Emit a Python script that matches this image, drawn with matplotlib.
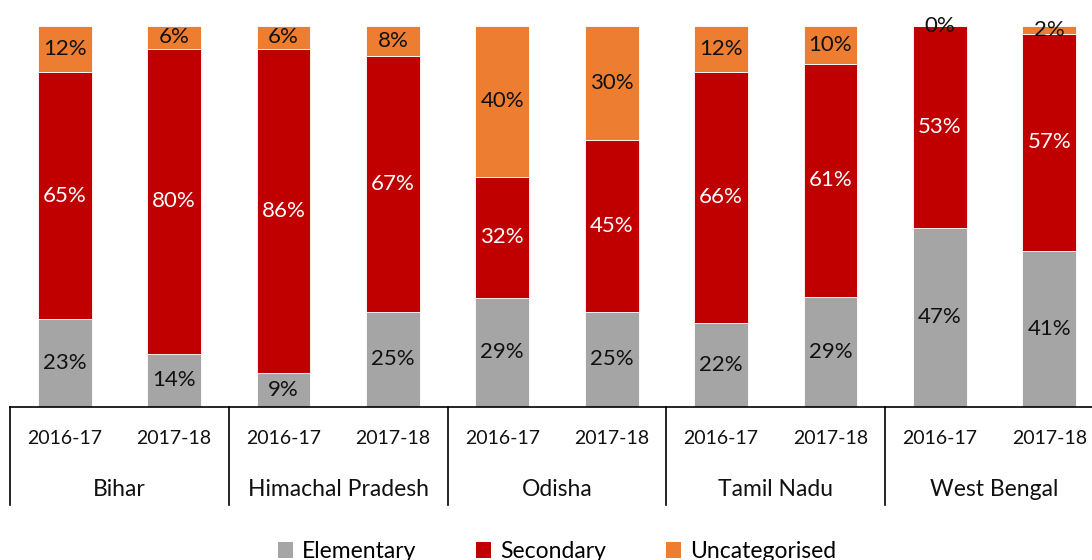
import matplotlib
matplotlib.use("Agg")
import matplotlib.pyplot as plt
from matplotlib.patches import Patch
import numpy as np

plt.rcParams['font.family'] = ['Lato', 'DejaVu Sans']

states = ["Bihar", "Himachal Pradesh", "Odisha", "Tamil Nadu", "West Bengal"]
years = ["2016-17", "2017-18"]
elementary = [23, 14, 9, 25, 29, 25, 22, 29, 47, 41]
secondary = [65, 80, 86, 67, 32, 45, 66, 61, 53, 57]
uncategorised = [12, 6, 6, 8, 40, 30, 12, 10, 0, 2]

colors = {"Elementary": "#A5A5A5", "Secondary": "#C00000", "Uncategorised": "#ED7D31"}
text_colors = {"Elementary": "#111111", "Secondary": "white", "Uncategorised": "#111111"}

fig = plt.figure(figsize=(10.92, 5.6), dpi=100)
ax = fig.add_axes([10/1092, (560-407)/560, 1094/1092, 381/560])

x = np.arange(len(elementary))
E = np.array(elementary, float); S = np.array(secondary, float); U = np.array(uncategorised, float)
tot = E + S + U
series = [("Elementary", E, elementary), ("Secondary", S, secondary), ("Uncategorised", U, uncategorised)]
bottom = np.zeros(len(x))
for name, vals, labels in series:
    frac = vals / tot
    ax.bar(x, frac, bottom=bottom, width=0.49, color=colors[name], edgecolor="white", linewidth=0.6)
    for xi, b, f, lab in zip(x, bottom, frac, labels):
        ax.text(xi, b + f/2, f"{lab}%", ha="center", va="center", fontsize=16,
                color=text_colors[name])
    bottom = bottom + frac

ax.set_xlim(-0.5, len(x) - 0.5)
ax.set_ylim(0, 1)
for s in ["top", "right", "left"]:
    ax.spines[s].set_visible(False)
ax.spines["bottom"].set_linewidth(1.2)
ax.spines["bottom"].set_color("black")
ax.set_xticks([]); ax.set_yticks([])

tr = ax.get_xaxis_transform()
for g in range(len(states) + 1):
    xv = -0.5 + 2 * g
    ax.plot([xv, xv], [0, -98/381], color="black", lw=1.2, transform=tr, clip_on=False)
for i in range(len(x)):
    ax.text(x[i], -32/381, years[i % 2], ha="center", va="center", fontsize=14, transform=tr, color="#111111")
for g, st in enumerate(states):
    ax.text(2*g + 0.5, -82/381, st, ha="center", va="center", fontsize=16.5, transform=tr, color="#111111")

handles = [Patch(facecolor=colors[n], edgecolor="none") for n in colors]
fig.legend(handles, list(colors.keys()), loc="center", bbox_to_anchor=(557/1092, 0.015),
           ncol=3, frameon=False, fontsize=16.5, handlelength=0.65, handleheight=0.65,
           handletextpad=0.4, columnspacing=2.6)

fig.savefig("out.png", dpi=100)
